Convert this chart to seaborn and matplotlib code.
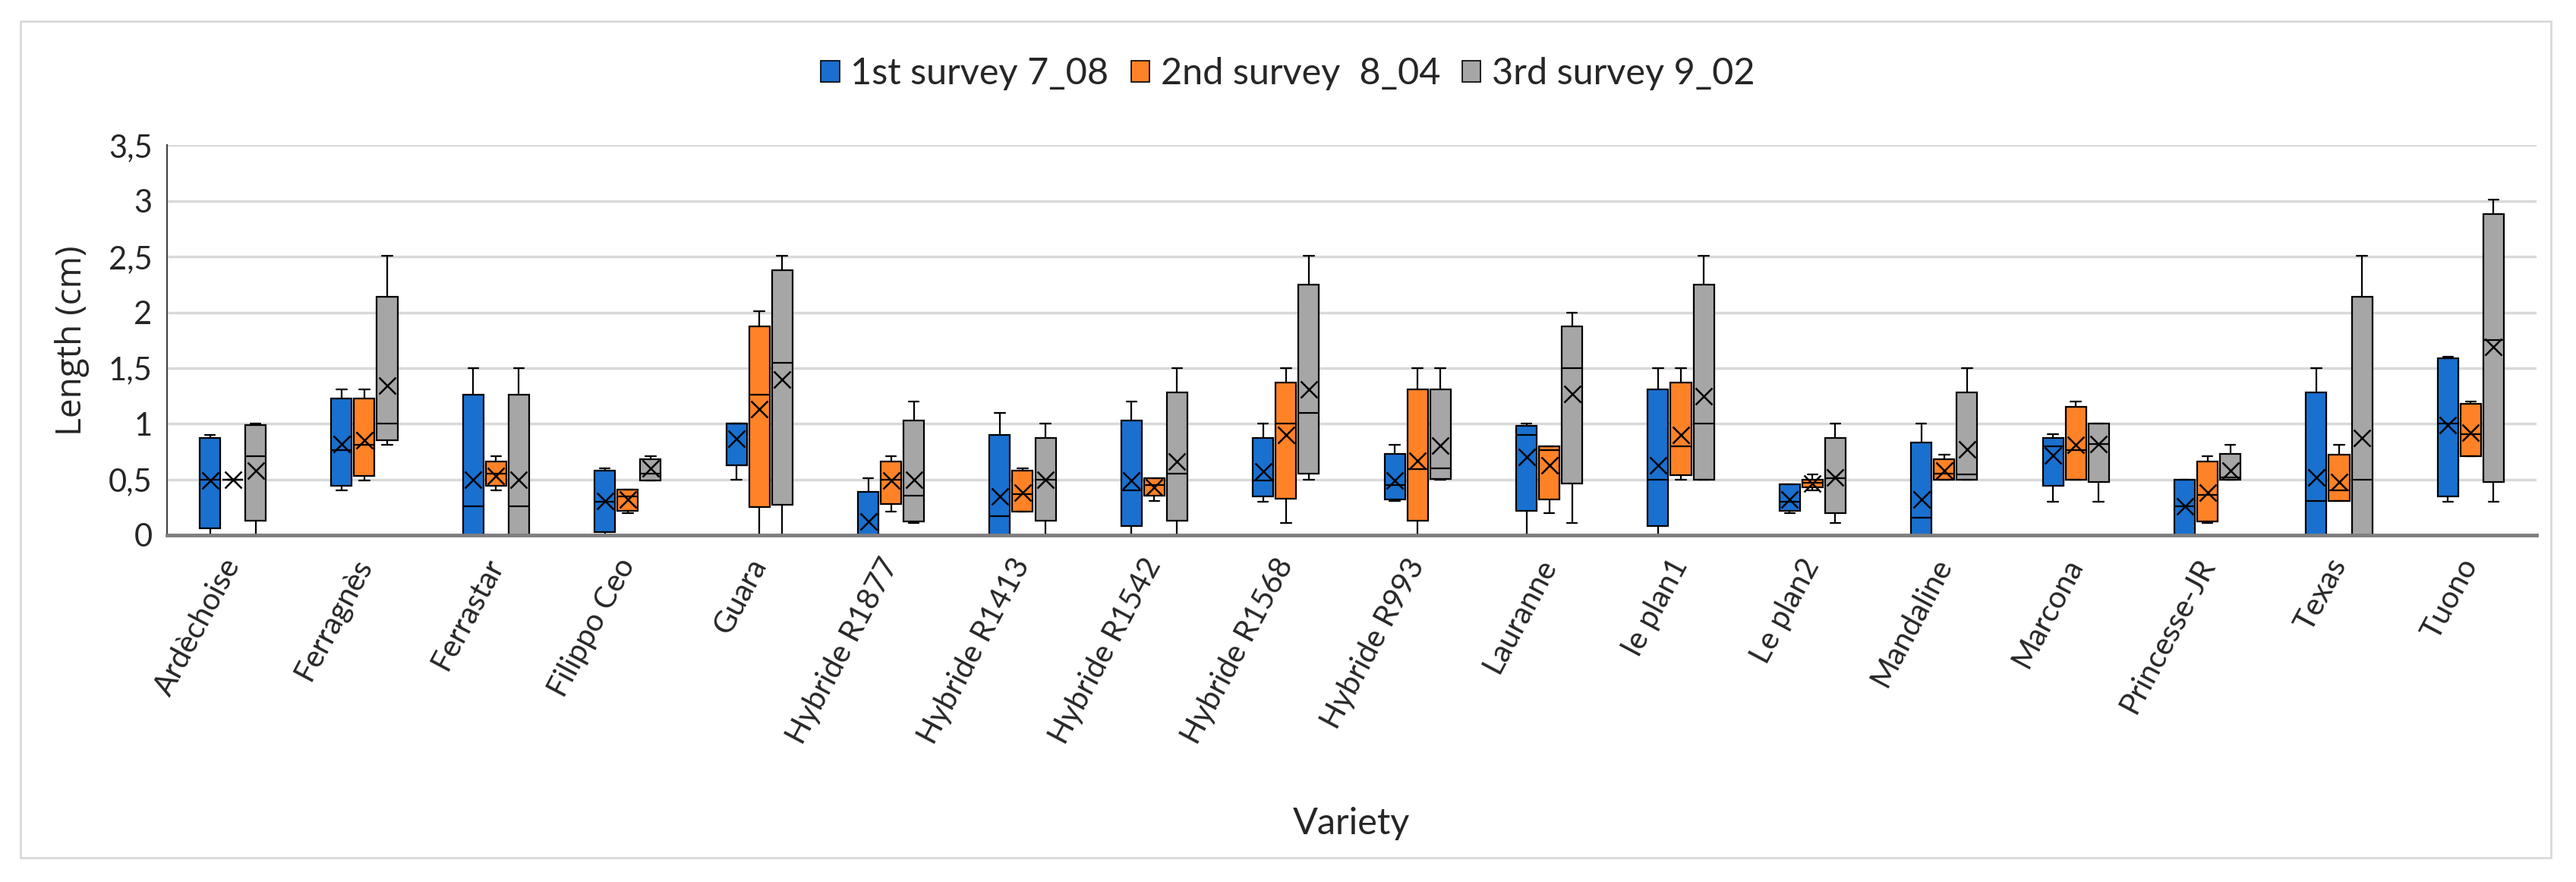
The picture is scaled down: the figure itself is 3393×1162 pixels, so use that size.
import numpy as np
import pandas as pd
import matplotlib
matplotlib.use("Agg")
import matplotlib.pyplot as plt
from matplotlib.patches import Patch, Rectangle
import seaborn as sns

# Varieties and surveys
varieties = ["Ardèchoise", "Ferragnès", "Ferrastar", "Filippo Ceo", "Guara",
             "Hybride R1877", "Hybride R1413", "Hybride R1542", "Hybride R1568",
             "Hybride R993", "Lauranne", "le plan1", "Le plan2", "Mandaline",
             "Marcona", "Princesse-JR", "Texas", "Tuono"]
surveys = ["1st survey 7_08", "2nd survey  8_04", "3rd survey 9_02"]
colors = ["#1A70CF", "#FF8227", "#A6A6A6"]

# 1st survey: whisker low, Q1, median, Q3, whisker high, mean
s1_lo = [0, 0.40, 0, 0, 0.50, 0, 0, 0, 0.30, 0.31, 0, 0, 0.20, 0, 0.30, 0, 0, 0.30]
s1_q1 = [0.06, 0.44, 0, 0.03, 0.63, 0, 0, 0.08, 0.35, 0.32, 0.22, 0.08, 0.22, 0, 0.44, 0, 0, 0.35]
s1_med = [0.50, 0.76, 0.26, 0.30, 1.00, 0, 0.17, 0.40, 0.49, 0.45, 0.90, 0.50, 0.30, 0.16, 0.80, 0.26, 0.31, 1.00]
s1_q3 = [0.875, 1.23, 1.26, 0.58, 1.00, 0.39, 0.90, 1.03, 0.87, 0.73, 0.98, 1.31, 0.455, 0.83, 0.875, 0.50, 1.28, 1.585]
s1_hi = [0.90, 1.31, 1.50, 0.60, 1.00, 0.51, 1.10, 1.20, 1.00, 0.81, 1.00, 1.50, 0.455, 1.00, 0.905, 0.50, 1.50, 1.60]
s1_mean = [0.49, 0.82, 0.50, 0.31, 0.865, 0.125, 0.35, 0.49, 0.575, 0.49, 0.70, 0.625, 0.32, 0.32, 0.716, 0.257, 0.52, 0.985]

# 2nd survey
s2_lo = [0.50, 0.49, 0.40, 0.20, 0, 0.21, 0.21, 0.31, 0.11, 0, 0.20, 0.495, 0.40, 0.50, 0.50, 0.11, 0.31, 0.71]
s2_q1 = [0.50, 0.53, 0.44, 0.22, 0.255, 0.28, 0.21, 0.355, 0.325, 0.13, 0.32, 0.535, 0.43, 0.50, 0.50, 0.125, 0.31, 0.71]
s2_med = [0.50, 0.81, 0.55, 0.35, 1.26, 0.50, 0.37, 0.45, 1.00, 0.59, 0.76, 0.80, 0.47, 0.55, 0.76, 0.36, 0.40, 0.905]
s2_q3 = [0.50, 1.23, 0.66, 0.41, 1.875, 0.66, 0.58, 0.51, 1.37, 1.31, 0.80, 1.37, 0.495, 0.68, 1.15, 0.66, 0.72, 1.177]
s2_hi = [0.50, 1.31, 0.71, 0.41, 2.01, 0.71, 0.60, 0.51, 1.50, 1.50, 0.80, 1.50, 0.545, 0.72, 1.20, 0.71, 0.81, 1.20]
s2_mean = [0.50, 0.85, 0.53, 0.32, 1.13, 0.49, 0.38, 0.43, 0.90, 0.67, 0.625, 0.90, 0.466, 0.58, 0.81, 0.38, 0.48, 0.92]

# 3rd survey
s3_lo = [0, 0.81, 0, 0.49, 0, 0.11, 0, 0, 0.50, 0.50, 0.11, 0.50, 0.11, 0.50, 0.30, 0.50, 0, 0.30]
s3_q1 = [0.13, 0.85, 0, 0.49, 0.27, 0.125, 0.13, 0.13, 0.55, 0.505, 0.46, 0.50, 0.20, 0.50, 0.48, 0.50, 0, 0.48]
s3_med = [0.71, 1.00, 0.26, 0.55, 1.55, 0.357, 0.50, 0.55, 1.10, 0.60, 1.50, 1.00, 0.51, 0.545, 0.82, 0.52, 0.50, 1.75]
s3_q3 = [0.99, 2.14, 1.26, 0.68, 2.38, 1.03, 0.875, 1.28, 2.25, 1.31, 1.875, 2.25, 0.875, 1.28, 1.00, 0.727, 2.14, 2.88]
s3_hi = [1.00, 2.51, 1.50, 0.71, 2.51, 1.20, 1.00, 1.50, 2.51, 1.50, 2.00, 2.51, 1.00, 1.50, 1.00, 0.81, 2.51, 3.01]
s3_mean = [0.58, 1.34, 0.50, 0.60, 1.40, 0.50, 0.50, 0.66, 1.31, 0.806, 1.27, 1.25, 0.52, 0.77, 0.82, 0.58, 0.87, 1.69]

yticks = [0, 0.5, 1, 1.5, 2, 2.5, 3, 3.5]
ytick_labels = ["0", "0,5", "1", "1,5", "2", "2,5", "3", "3,5"]

# five-number summaries -> five points per box, so seaborn's quartiles land exactly on them
summary = {
    surveys[0]: (s1_lo, s1_q1, s1_med, s1_q3, s1_hi, s1_mean),
    surveys[1]: (s2_lo, s2_q1, s2_med, s2_q3, s2_hi, s2_mean),
    surveys[2]: (s3_lo, s3_q1, s3_med, s3_q3, s3_hi, s3_mean),
}
rows, mean_rows = [], []
for s, (lo, q1, med, q3, hi, mn) in summary.items():
    for i, v in enumerate(varieties):
        for val in (lo[i], q1[i], med[i], q3[i], hi[i]):
            rows.append({"Variety": v, "Survey": s, "Length": val})
        mean_rows.append({"Variety": v, "Survey": s, "Length": mn[i]})
df = pd.DataFrame(rows)
df_mean = pd.DataFrame(mean_rows)

sns.set_theme(style="white")
plt.rcParams["font.family"] = ["Lato", "DejaVu Sans"]

fig = plt.figure(figsize=(33.93, 11.62), dpi=100)
ax = fig.add_axes([0.0648, 0.3933, 0.9199, 0.4419])

sns.boxplot(data=df, x="Variety", y="Length", hue="Survey", order=varieties,
            hue_order=surveys, palette=colors, saturation=1, whis=np.inf,
            width=0.52, gap=0.1, linecolor="black", linewidth=1.6,
            showfliers=False, legend=False, ax=ax)

sns.pointplot(data=df_mean, x="Variety", y="Length", hue="Survey", order=varieties,
              hue_order=surveys, palette=["black"] * 3, dodge=0.3467,
              markers="x", linestyles="none", errorbar=None, legend=False,
              markersize=16, markeredgewidth=1.8, ax=ax, zorder=5)

ax.set_xlim(-0.5, len(varieties) - 0.5)
ax.set_ylim(0, 3.5)
ax.set_yticks(yticks)
ax.set_yticklabels(ytick_labels)
ax.yaxis.grid(True, color="#D9D9D9", linewidth=2.5)
ax.xaxis.grid(False)
ax.set_axisbelow(True)

for side in ["top", "right"]:
    ax.spines[side].set_visible(False)
ax.spines["left"].set_color("#404040")
ax.spines["left"].set_linewidth(1.5)
ax.spines["bottom"].set_color("#7F7F7F")
ax.spines["bottom"].set_linewidth(3.5)

ax.tick_params(axis="y", labelsize=30, pad=14, length=0)
ax.tick_params(axis="x", labelsize=29, pad=24, length=0)
for lab in ax.get_xticklabels():
    lab.set_rotation(62)
    lab.set_ha("right")
    lab.set_va("center")
    lab.set_rotation_mode("anchor")

ax.set_xlabel("Variety", fontsize=35, labelpad=55)
ax.set_ylabel("Length (cm)", fontsize=33, labelpad=18, family=["Open Sans", "DejaVu Sans"])

handles = [Patch(facecolor=c, edgecolor="black", linewidth=1.2) for c in colors]
fig.legend(handles, surveys, loc="center", bbox_to_anchor=(0.5, 0.9165), ncol=3,
           frameon=False, fontsize=35, handlelength=0.5, handleheight=0.5,
           handletextpad=0.3, columnspacing=0.6)

# chart area border
fig.patches.append(Rectangle((27 / 3393, 1 - 1130 / 1162), 3333 / 3393, 1102 / 1162,
                             transform=fig.transFigure, fill=False,
                             edgecolor="#D9D9D9", linewidth=2))

fig.savefig("out.png", dpi=100)
